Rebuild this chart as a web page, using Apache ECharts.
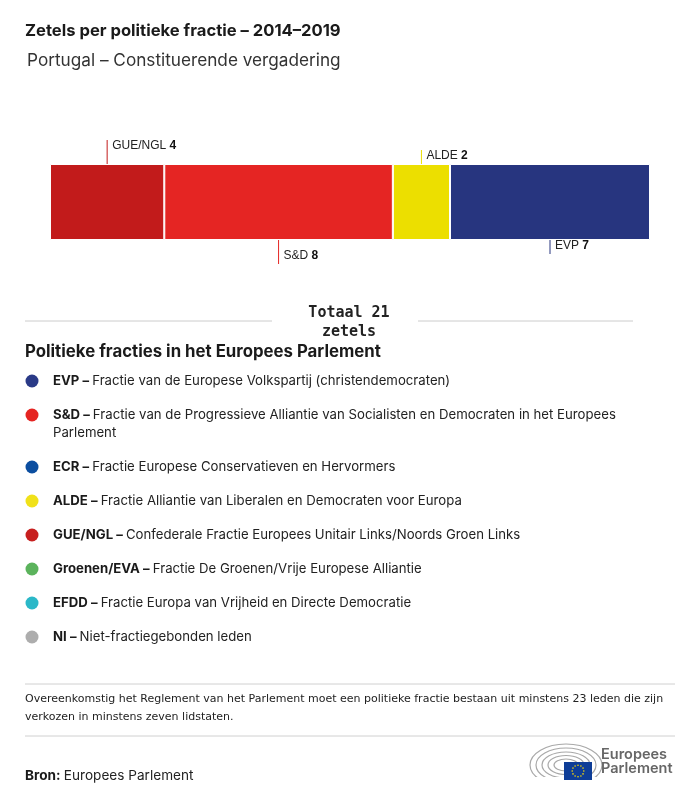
<!DOCTYPE html>
<html><head><meta charset="utf-8">
<script src="https://cdn.jsdelivr.net/npm/echarts@6/dist/echarts.min.js"></script>
<style>html,body{margin:0;padding:0;background:#fff}#c{width:700px;height:801px}</style>
</head><body><div id="c"></div>
<script>
// ---- data ----
const seatGroups = ['GUE/NGL', 'S&D', 'ALDE', 'EVP'];
const seatValues = [4, 8, 2, 7];
const seatColors = ['#c21b1b', '#e52523', '#ecdf00', '#27357f'];

const legendCodes = ['EVP', 'S&D', 'ECR', 'ALDE', 'GUE/NGL', 'Groenen/EVA', 'EFDD', 'NI'];
const legendNames = [
  'Fractie van de Europese Volkspartij (christendemocraten)',
  'Fractie van de Progressieve Alliantie van Socialisten en Democraten in het Europees Parlement',
  'Fractie Europese Conservatieven en Hervormers',
  'Fractie Alliantie van Liberalen en Democraten voor Europa',
  'Confederale Fractie Europees Unitair Links/Noords Groen Links',
  'Fractie De Groenen/Vrije Europese Alliantie',
  'Fractie Europa van Vrijheid en Directe Democratie',
  'Niet-fractiegebonden leden'
];
const legendColors = ['#2a3a87', '#e52421', '#0b4ea0', '#f0e11a', '#c71f1e', '#5bb35c', '#2bb8c8', '#adadad'];

const titleText = 'Zetels per politieke fractie – 2014–2019';
const subtitleText = 'Portugal – Constituerende vergadering';
const legendTitle = 'Politieke fracties in het Europees Parlement';
const noteText = 'Overeenkomstig het Reglement van het Parlement moet een politieke fractie bestaan uit minstens 23 leden die zijn verkozen in minstens zeven lidstaten.';
const sourceLabel = 'Bron:';
const sourceText = 'Europees Parlement';

// ---- helpers ----
const FONT = 'Inter';
const cv = document.createElement('canvas').getContext('2d');
function wrap(text, font, maxW) {
  cv.font = font;
  const words = text.split(' ');
  const lines = [];
  let cur = '';
  words.forEach(w => {
    const t = cur ? cur + ' ' + w : w;
    if (cv.measureText(t).width > maxW && cur) { lines.push(cur); cur = w; }
    else cur = t;
  });
  if (cur) lines.push(cur);
  return lines;
}

const total = seatValues.reduce((a, b) => a + b, 0);
const starts = [];
let acc = 0;
seatValues.forEach(v => { starts.push(acc); acc += v; });

const chart = echarts.init(document.getElementById('c'), null, { renderer: 'canvas' });

const elements = [];
// titles
elements.push({ type: 'text', x: 25, y: 31, style: { text: titleText, font: 'bold 16.6px ' + FONT, fill: '#1a1a1a', verticalAlign: 'middle' } });
elements.push({ type: 'text', x: 27, y: 61, style: { text: subtitleText, font: '17.2px ' + FONT, fill: '#333', verticalAlign: 'middle' } });

// total
elements.push({ type: 'line', shape: { x1: 25, y1: 321, x2: 272, y2: 321 }, style: { stroke: '#cccccc', lineWidth: 1 } });
elements.push({ type: 'line', shape: { x1: 418, y1: 321, x2: 633, y2: 321 }, style: { stroke: '#cccccc', lineWidth: 1 } });
elements.push({ type: 'text', x: 349, y: 304, style: { text: 'Totaal ' + total + '\nzetels', font: 'bold 15px "DejaVu Sans Mono"', fill: '#222', align: 'center', lineHeight: 19 } });

// legend
elements.push({ type: 'text', x: 25, y: 352, style: { text: legendTitle, font: 'bold 16.8px ' + FONT, fill: '#1a1a1a', verticalAlign: 'middle' } });
let ly = 381;
legendCodes.forEach((code, i) => {
  const lines = wrap(code + ' – ' + legendNames[i], '13.2px ' + FONT, 590);
  const first = lines[0].slice(code.length + 3);
  const rest = lines.slice(1);
  let txt = '{b|' + code + ' – }{r|' + first + '}';
  rest.forEach(l => { txt += '\n{r|' + l + '}'; });
  elements.push({ type: 'circle', shape: { cx: 32, cy: ly, r: 6.5 }, style: { fill: legendColors[i] } });
  elements.push({ type: 'text', x: 53, y: ly - 9, style: {
    text: txt, verticalAlign: 'top', fill: '#222',
    rich: { b: { font: 'bold 13.2px ' + FONT, fill: '#1a1a1a', lineHeight: 18 }, r: { font: '13.2px ' + FONT, fill: '#222', lineHeight: 18 } }
  } });
  ly += 34 + 18 * rest.length;
});

// footnote
elements.push({ type: 'line', shape: { x1: 25, y1: 684, x2: 675, y2: 684 }, style: { stroke: '#d0d0d0', lineWidth: 1 } });
elements.push({ type: 'line', shape: { x1: 25, y1: 736, x2: 675, y2: 736 }, style: { stroke: '#d0d0d0', lineWidth: 1 } });
const noteLines = wrap(noteText, '11px "DejaVu Sans"', 645);
elements.push({ type: 'text', x: 25, y: 690, style: { text: noteLines.join('\n'), font: '11px "DejaVu Sans"', fill: '#222', lineHeight: 18, verticalAlign: 'top' } });

// source
elements.push({ type: 'text', x: 25, y: 776, style: {
  text: '{b|' + sourceLabel + '} {r|' + sourceText + '}', verticalAlign: 'middle',
  rich: { b: { font: 'bold 13.6px ' + FONT, fill: '#1a1a1a' }, r: { font: '13.6px ' + FONT, fill: '#222' } }
} });

// logo: hemicycle + flag + wordmark
[[36, 21], [30, 17], [24, 13], [18, 9.5], [12, 6]].forEach(r => {
  elements.push({ type: 'ellipse', shape: { cx: 566, cy: 765, rx: r[0], ry: r[1] }, style: { stroke: '#a8a8a8', lineWidth: 1.2, fill: null } });
});
elements.push({ type: 'rect', shape: { x: 525, y: 777, width: 75, height: 15 }, style: { fill: '#fff' } });
elements.push({ type: 'rect', shape: { x: 564, y: 762, width: 28, height: 18 }, style: { fill: '#0e3d97' } });
for (let k = 0; k < 12; k++) {
  const a = k * Math.PI / 6;
  elements.push({ type: 'circle', shape: { cx: 578 + 5.8 * Math.cos(a), cy: 771 + 5.8 * Math.sin(a), r: 0.8 }, style: { fill: '#ffdd00' } });
}
elements.push({ type: 'text', x: 601, y: 762, style: { text: 'Europees\nParlement', font: '600 14.5px ' + FONT, fill: '#666', lineHeight: 14, verticalAlign: 'middle' } });

const option = {
  animation: false,
  backgroundColor: '#fff',
  grid: { left: 50, right: 50, top: 164, height: 76 },
  xAxis: { type: 'value', min: 0, max: total, show: false },
  yAxis: { type: 'category', data: ['Portugal'], show: false },
  series: seatGroups.map((g, i) => ({
    type: 'bar', name: g, stack: 'seats', data: [seatValues[i]], barWidth: 76, silent: true,
    itemStyle: { color: seatColors[i], borderColor: '#ffffff', borderWidth: 1 }
  })).concat([{
    type: 'custom', silent: true, clip: false,
    encode: { x: [0, 1], y: 2 },
    data: seatGroups.map((g, i) => [starts[i], starts[i] + seatValues[i], 0, seatValues[i], i]),
    renderItem: function (params, api) {
      const i = api.value(4);
      const a = api.coord([api.value(0), 0]);
      const b = api.coord([api.value(1), 0]);
      const h = api.size([0, 1])[1];
      const mid = (a[0] + b[0]) / 2;
      const up = i % 2 === 0;
      const len = i < 2 ? 24 : 14;
      const top = a[1] - h / 2, bottom = a[1] + h / 2;
      const y1 = up ? top - len : bottom;
      const y2 = up ? top : bottom + len;
      const ty = up ? top - len + 6 : bottom + len - 8;
      return { type: 'group', children: [
        { type: 'line', shape: { x1: mid, y1: y1, x2: mid, y2: y2 }, style: { stroke: seatColors[i], lineWidth: 1 } },
        { type: 'text', x: mid + 5, y: ty, style: {
          text: '{n|' + seatGroups[i] + '} {v|' + api.value(3) + '}', verticalAlign: 'middle', align: 'left',
          rich: { n: { font: '12px "Liberation Sans"', fill: '#222' }, v: { font: 'bold 12px "Liberation Sans"', fill: '#111' } }
        } }
      ] };
    }
  }]),
  graphic: { elements: elements }
};
chart.setOption(option);
</script>
</body></html>
